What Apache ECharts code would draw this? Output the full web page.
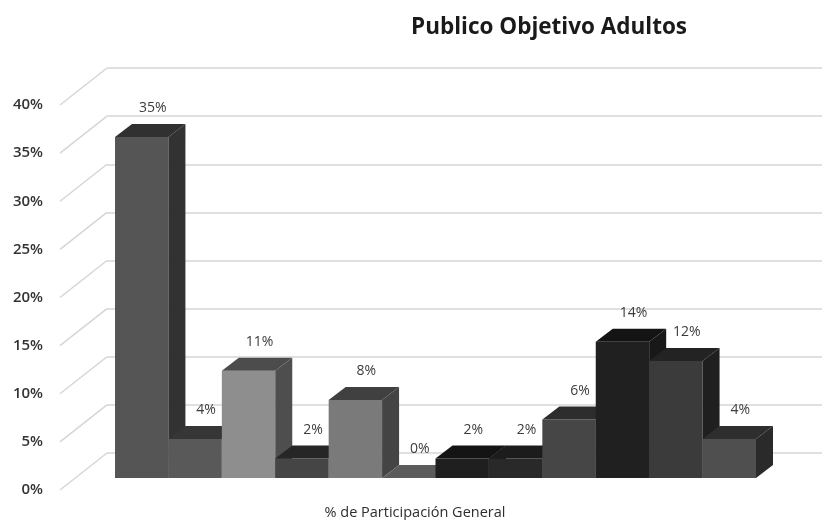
<!DOCTYPE html>
<html>
<head>
<meta charset="utf-8">
<script src="https://cdn.jsdelivr.net/npm/echarts@6/dist/echarts.min.js"></script>
<style>
  html, body { margin: 0; padding: 0; background: #ffffff; }
  #chart { width: 822px; height: 520px; }
</style>
</head>
<body>
<div id="chart"></div>
<script>
// Chart content
const chartTitle = 'Publico Objetivo Adultos';
const categories = ['% de Participación General'];
const values = [35, 4, 11, 2, 8, 0, 2, 2, 6, 14, 12, 4];
const yMin = 0, yMax = 40, yStep = 5;
const yTicks = [0, 5, 10, 15, 20, 25, 30, 35, 40];

// Shades for each column: front face, top face, right side face
const frontColors = ['#555555', '#595959', '#8e8e8e', '#454545', '#7a7a7a', '#666666',
                     '#1f1f1f', '#292929', '#464646', '#202020', '#3b3b3b', '#4f4f4f'];
const topColors   = ['#303030', '#363636', '#4c4c4c', '#262626', '#404040', '#5c5c5c',
                     '#141414', '#1c1c1c', '#2d2d2d', '#141414', '#232323', '#2e2e2e'];
const sideColors  = ['#323232', '#3a3a3a', '#4e4e4e', '#2a2a2a', '#444444', '#555555',
                     '#181818', '#1e1e1e', '#2a2a2a', '#181818', '#1f1f1f', '#2a2a2a'];

// 3D look: depth of each column and offset of the back wall from the label plane
const DX = 17, DY = 13;
const WX = 47, WY = 37;
const gridColor = '#d6d6d6';
const textColor = '#3c3c3c';
const font = 'Open Sans';

const chart = echarts.init(document.getElementById('chart'), null, { renderer: 'canvas' });

const pct = v => v + '%';

chart.setOption({
  animation: false,
  backgroundColor: '#ffffff',
  title: {
    text: chartTitle,
    left: 406,
    top: 11,
    textStyle: { fontFamily: font, fontSize: 22.5, fontWeight: 'bold', color: '#1a1a1a' }
  },
  grid: [
    // back wall
    { left: 107, right: 0, top: 68, bottom: 67 },
    // label plane (front of the floor)
    { left: 60, right: 47, top: 105, bottom: 30 },
    // front plane of the columns
    { left: 115, right: 66, top: 88.4, bottom: 42 },
    // category caption
    { left: 60, right: 52, top: 88.4, bottom: 42 }
  ],
  xAxis: [
    { gridIndex: 0, type: 'value', min: 0, max: 1, show: false },
    { gridIndex: 1, type: 'value', min: 0, max: 1, show: false },
    { gridIndex: 2, type: 'value', min: 0, max: values.length, show: false },
    {
      gridIndex: 3, type: 'category', data: categories,
      axisLine: { show: false }, axisTick: { show: false }, splitLine: { show: false },
      axisLabel: { margin: 27, fontFamily: font, fontSize: 14.5, fontWeight: 500, color: '#2e2e2e' }
    }
  ],
  yAxis: [
    {
      gridIndex: 0, type: 'value', min: yMin, max: yMax, interval: yStep,
      axisLine: { show: false }, axisTick: { show: false }, axisLabel: { show: false },
      splitLine: { show: true, lineStyle: { color: gridColor, width: 1.5 } }
    },
    {
      gridIndex: 1, type: 'value', min: yMin, max: yMax, interval: yStep,
      axisLine: { show: false }, axisTick: { show: false }, splitLine: { show: false },
      axisLabel: {
        margin: 17, formatter: pct, fontFamily: font, fontSize: 15,
        fontWeight: 600, color: '#333333'
      }
    },
    { gridIndex: 2, type: 'value', min: yMin, max: yMax, interval: yStep, show: false },
    { gridIndex: 3, type: 'value', min: yMin, max: yMax, interval: yStep, show: false }
  ],
  series: [
    {
      // slanted gridlines running from the label plane up to the back wall
      type: 'custom',
      xAxisIndex: 0, yAxisIndex: 0,
      z: 1,
      silent: true,
      data: yTicks.map(v => [0, v]),
      renderItem: function (params, api) {
        const p = api.coord([0, api.value(1)]);
        return {
          type: 'line',
          shape: { x1: p[0] - WX, y1: p[1] + WY, x2: p[0], y2: p[1] },
          style: { stroke: gridColor, lineWidth: 1.5 }
        };
      }
    },
    {
      // 3D columns, drawn left to right so each one covers its neighbour's side face
      type: 'custom',
      xAxisIndex: 2, yAxisIndex: 2,
      z: 3,
      data: values.map((v, i) => [i, v]),
      renderItem: function (params, api) {
        const i = api.value(0);
        const v = api.value(1);
        const p0 = api.coord([i, 0]);
        const p1 = api.coord([i + 1, v]);
        const xl = p0[0], xr = p1[0], yb = p0[1], yt = p1[1];
        return {
          type: 'group',
          children: [
            {
              type: 'polygon', z2: i * 4,
              shape: { points: [[xl, yb], [xr, yb], [xr, yt], [xl, yt]] },
              style: { fill: frontColors[i] }
            },
            {
              type: 'polygon', z2: i * 4 + 1,
              shape: { points: [[xl, yt], [xr, yt], [xr + DX, yt - DY], [xl + DX, yt - DY]] },
              style: { fill: topColors[i] }
            },
            {
              type: 'polygon', z2: i * 4 + 1,
              shape: { points: [[xr, yb], [xr + DX, yb - DY], [xr + DX, yt - DY], [xr, yt]] },
              style: { fill: sideColors[i] }
            },
            {
              type: 'text', z2: i * 4 + 2,
              x: (xl + xr) / 2 + 11,
              y: yt - DY - 16,
              style: {
                text: pct(v),
                fill: textColor,
                font: '14px "' + font + '"',
                align: 'center',
                verticalAlign: 'middle'
              }
            }
          ]
        };
      }
    }
  ]
});
</script>
</body>
</html>
